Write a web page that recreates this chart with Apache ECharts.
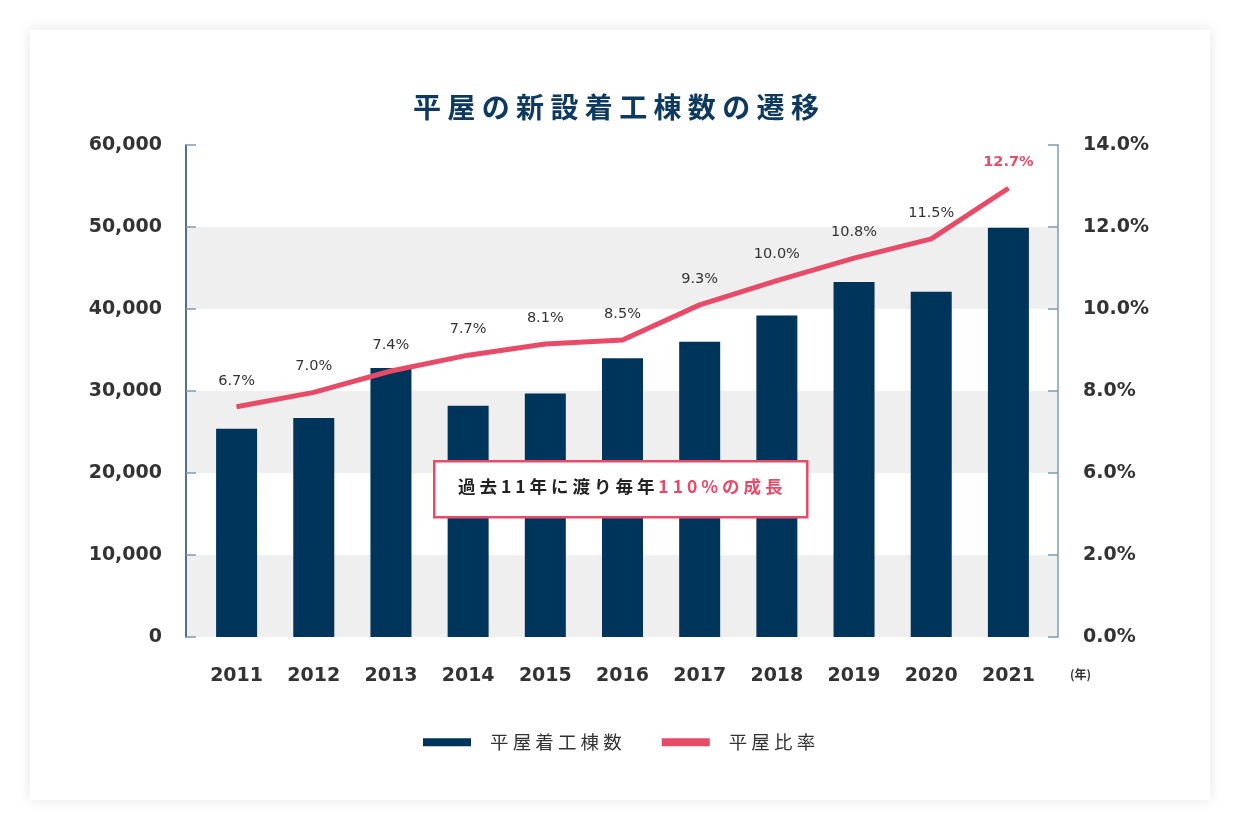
<!DOCTYPE html>
<html><head><meta charset="utf-8">
<script src="https://cdn.jsdelivr.net/npm/echarts@6/dist/echarts.min.js"></script>
<style>
html,body{margin:0;padding:0;background:#fff;width:1241px;height:831px;overflow:hidden}
#card{position:absolute;left:30px;top:30px;width:1180px;height:770px;background:#fff;box-shadow:0 0 14px rgba(0,0,0,0.10)}
#chart{position:absolute;left:0;top:0;width:1241px;height:831px}
</style></head>
<body><div id="card"></div><div id="chart"></div>
<script>
const years = ['2011','2012','2013','2014','2015','2016','2017','2018','2019','2020','2021'];
const starts = [25400, 26700, 32800, 28200, 29700, 34000, 36000, 39200, 43300, 42100, 49900];
const ratio = [6.55, 6.96, 7.57, 8.02, 8.34, 8.45, 9.45, 10.14, 10.78, 11.33, 12.77];
const ratioLabels = ['6.7%','7.0%','7.4%','7.7%','8.1%','8.5%','9.3%','10.0%','10.8%','11.5%','12.7%'];
const leftTicks = ['0','10,000','20,000','30,000','40,000','50,000','60,000'];
const rightTicks = ['0.0%','2.0%','6.0%','8.0%','10.0%','12.0%','14.0%'];
const titleText = '平屋の新設着工棟数の遷移';
const seriesNames = ['平屋着工棟数','平屋比率'];
const yearUnit = '(年)';
const noteDark = '過去11年に渡り毎年';
const noteRed = '110%の成長';

const NAVY = '#00355b', RED = '#e84b68', TXT = '#333333';
const SP = ' ';
const spaced = s => s.split('').join(SP);
const CJK = '"Noto Sans CJK JP", "Noto Sans", sans-serif';
const NUM = '"DejaVu Sans", sans-serif';

const chart = echarts.init(document.getElementById('chart'), null, {renderer:'canvas'});
const G0 = {left:186, right:183, top:145, bottom:194};
const G1 = {left:198, right:194, top:145, bottom:194};

chart.setOption({
  animation:false,
  backgroundColor:'transparent',
  title:{text:spaced(titleText), left:413, top:93, padding:0,
    textStyle:{fontFamily:CJK, fontSize:28, fontWeight:'bold', color:'#0f3a60'}},
  legend:{top:733, left:423, padding:0, icon:'rect', itemWidth:48, itemHeight:8, itemGap:40,
    data:seriesNames,
    formatter: n => spaced(n),
    textStyle:{fontFamily:CJK, fontSize:18.5, color:TXT, padding:[0,0,0,14]}},
  grid:[Object.assign({containLabel:false}, G0), Object.assign({containLabel:false}, G1)],
  xAxis:[
    {type:'category', gridIndex:0, data:years, show:false},
    {type:'category', gridIndex:1, data:years,
     axisLine:{show:false}, axisTick:{show:false},
     axisLabel:{margin:30, fontFamily:NUM, fontSize:19, fontWeight:'bold', color:TXT}}
  ],
  yAxis:[
    {type:'value', gridIndex:0, position:'left', min:0, max:60000, interval:10000,
     axisLine:{show:true, lineStyle:{color:'#1d3f5f', width:1.5}},
     axisTick:{show:true, inside:true, length:10, lineStyle:{color:'#7f9bb3', width:1.5}},
     axisLabel:{margin:24, fontFamily:NUM, fontSize:19, fontWeight:'bold', color:TXT,
       formatter:(v)=>leftTicks[Math.round(v/10000)]},
     splitLine:{show:false},
     splitArea:{show:true, areaStyle:{color:['#efefef','#ffffff']}}},
    {type:'value', gridIndex:0, position:'right', min:0, max:60000, interval:10000,
     axisLine:{show:true, lineStyle:{color:'#7f9bb3', width:1.5}},
     axisTick:{show:true, inside:true, length:10, lineStyle:{color:'#7f9bb3', width:1.5}},
     axisLabel:{margin:25, fontFamily:NUM, fontSize:19, fontWeight:'bold', color:TXT,
       formatter:(v)=>rightTicks[Math.round(v/10000)]},
     splitLine:{show:false}, splitArea:{show:false}},
    {type:'value', gridIndex:1, min:0, max:60000, show:false, splitLine:{show:false}},
    {type:'value', gridIndex:1, min:0, max:14, show:false, splitLine:{show:false}}
  ],
  series:[
    {name:seriesNames[0], type:'bar', xAxisIndex:1, yAxisIndex:2, data:starts,
     barWidth:41, itemStyle:{color:NAVY}},
    {name:seriesNames[1], type:'line', xAxisIndex:1, yAxisIndex:3,
     symbol:'circle', symbolSize:1, showSymbol:true, smooth:false, z:3,
     lineStyle:{color:RED, width:5}, itemStyle:{color:RED},
     label:{show:true, position:'top', distance:18, fontFamily:NUM, fontSize:14.5, color:TXT},
     data: ratio.map((v,i)=>{
       const last = i === ratio.length-1;
       return {value:v, label:{show:true, formatter: ratioLabels[i],
         fontWeight: last?'bold':'normal', color: last?RED:TXT}};
     })}
  ],
  graphic:[
    {type:'text', left:1070, top:668, z:100,
     style:{text:yearUnit, fontFamily:CJK, fontSize:12, fontWeight:'bold', fill:TXT}},
    {type:'rect', left:433, top:460, z:100, shape:{x:0,y:0,width:373,height:56},
     style:{fill:'#ffffff', stroke:RED, lineWidth:2.5}},
    {type:'text', left:458, top:478, z:101,
     style:{text:'{a|'+spaced(noteDark)+SP+'}{b|'+spaced(noteRed)+'}',
       rich:{a:{fontFamily:CJK, fontSize:17.5, fontWeight:'bold', fill:'#222'},
             b:{fontFamily:CJK, fontSize:17.5, fontWeight:'bold', fill:RED}}}}
  ]
});
</script></body></html>
